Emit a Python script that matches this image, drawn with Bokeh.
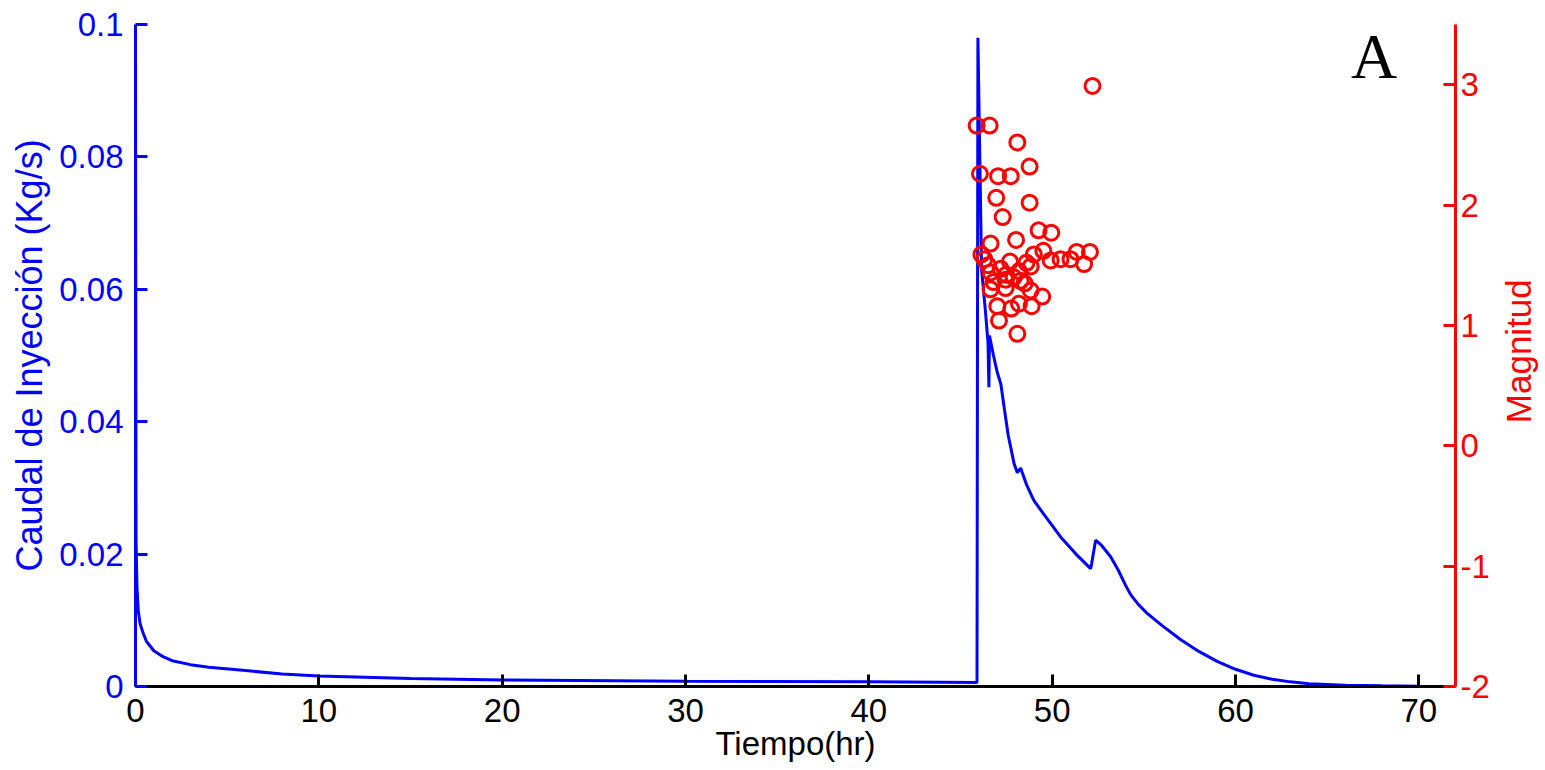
import math
from bokeh.plotting import figure
from bokeh.layouts import row
from bokeh.models import Range1d, LinearAxis, FixedTicker, Label
from bokeh.core.properties import value
from bokeh.embed import file_html
from bokeh.resources import INLINE

# Injection rate curve (time in hr, rate in Kg/s)
tiempo = [0, 0, 0.03, 0.08, 0.15, 0.25, 0.4, 0.6, 1, 1.5, 2, 3, 4, 6, 8, 10, 15, 20, 30, 40, 45.9,
          45.95, 46.15, 46.35, 46.5, 46.55, 46.58, 46.8, 47.0, 47.2, 47.4, 47.6, 47.92,
          48.1, 48.28, 48.6, 49.0, 49.6, 50.46, 51.3, 52.1, 52.15, 52.37, 52.7,
          53.19, 53.6, 54.0, 54.3, 54.7, 55.2, 56, 57, 58, 59, 60, 61, 62, 63, 64, 66, 68, 70]
caudal = [0, 0.1, 0.022, 0.015, 0.0115, 0.0095, 0.0082, 0.0068, 0.0054, 0.0045, 0.0039, 0.0033, 0.0029, 0.0024, 0.0019, 0.0016, 0.0012, 0.001, 0.0008, 0.0007, 0.0006,
          0.098, 0.063, 0.057, 0.052, 0.0452, 0.053, 0.050, 0.0475, 0.0457, 0.0418, 0.0380, 0.0337,
          0.0323, 0.033, 0.0305, 0.0281, 0.0258, 0.0226, 0.0200, 0.0178, 0.0185, 0.0221, 0.0213,
          0.0196, 0.0176, 0.0153, 0.0138, 0.0124, 0.0110, 0.0092, 0.0071, 0.0053, 0.0038, 0.0026, 0.0017, 0.0011, 0.0007, 0.0004, 0.0002, 0.0001, 0.00005]

# Seismic events (time in hr, magnitude)
ev_t = [52.2, 45.88, 46.59, 48.1, 46.06, 47.05, 47.74, 48.77, 46.95, 48.77,
        47.30, 49.26, 49.95, 46.64, 48.03, 46.14, 46.3, 49.0, 49.52, 49.92,
        50.46, 51.0, 51.34, 52.06, 51.74, 47.7, 46.5, 46.64, 47.19, 48.19,
        48.83, 47.46, 48.28, 46.64, 47.46, 48.83, 49.46, 47.01, 47.77, 48.19,
        48.88, 47.1, 48.1, 47.5, 47.9, 46.8, 48.6, 48.5]
ev_m = [2.99, 2.66, 2.66, 2.52, 2.26, 2.24, 2.24, 2.32, 2.06, 2.02,
        1.90, 1.79, 1.77, 1.68, 1.71, 1.59, 1.55, 1.59, 1.62, 1.54,
        1.55, 1.55, 1.61, 1.61, 1.51, 1.53, 1.50, 1.44, 1.47, 1.45,
        1.49, 1.38, 1.37, 1.30, 1.31, 1.29, 1.24, 1.16, 1.14, 1.18,
        1.16, 1.04, 0.93, 1.42, 1.40, 1.36, 1.52, 1.35]

x_ticks = [0, 10, 20, 30, 40, 50, 60, 70]
y_ticks = [0, 0.02, 0.04, 0.06, 0.08, 0.1]
y_tick_labels = ["0", "0.02", "0.04", "0.06", "0.08", "0.1"]
m_ticks = [-2, -1, 0, 1, 2, 3]
m_tick_labels = ["-2", "-1", "0", "1", "2", "3"]

FONT = "Liberation Sans"
BLUE = "#0000ff"
RED = "#ff0000"

p = figure(frame_width=1320, frame_height=662, output_backend="svg", toolbar_location=None,
           x_range=Range1d(0, 72), y_range=Range1d(0, 0.1),
           min_border_left=135, min_border_right=45, min_border_top=24, min_border_bottom=84)
p.extra_y_ranges = {"mag": Range1d(-2, 3.5)}
p.outline_line_color = None
p.xgrid.visible = False
p.ygrid.visible = False
p.background_fill_color = "white"
p.border_fill_color = "white"

# x axis
xa = p.xaxis[0]
xa.ticker = FixedTicker(ticks=x_ticks)
xa.axis_label = "Tiempo(hr)"
xa.axis_line_color = "black"
xa.major_tick_line_color = "black"
xa.major_label_text_color = "black"
xa.axis_label_text_color = "black"

# left axis
ya = p.yaxis[0]
ya.ticker = FixedTicker(ticks=y_ticks)
ya.major_label_overrides = {v: s for v, s in zip(y_ticks, y_tick_labels)}
ya.axis_label = "Caudal de Inyección (Kg/s)"
ya.axis_line_color = BLUE
ya.major_tick_line_color = BLUE
ya.major_label_text_color = BLUE
ya.axis_label_text_color = BLUE

# right axis
ra = LinearAxis(y_range_name="mag", ticker=FixedTicker(ticks=m_ticks))
ra.major_label_overrides = {v: s for v, s in zip(m_ticks, m_tick_labels)}
ra.axis_line_color = RED
ra.major_tick_line_color = RED
ra.major_label_text_color = RED
p.add_layout(ra, "right")

for ax in [xa, ya, ra]:
    ax.axis_line_width = 3
    ax.major_tick_line_width = 3
    ax.major_tick_in = 12
    ax.major_tick_out = 0
    ax.minor_tick_line_color = None
    ax.major_label_text_font = FONT
    ax.major_label_text_font_size = "33px"
    ax.axis_label_text_font = FONT
    ax.axis_label_text_font_style = "normal"

xa.axis_label_text_font_size = "33px"
xa.major_label_standoff = 12
xa.axis_label_standoff = 0
ya.axis_label_text_font_size = "36px"
ya.major_label_standoff = 12
ya.axis_label_standoff = 6
ra.major_label_standoff = 5

p.line(tiempo, caudal, line_color=BLUE, line_width=3)
p.scatter(ev_t, ev_m, y_range_name="mag", marker="circle", size=15,
          fill_color=None, line_color=RED, line_width=3)

p.add_layout(Label(x=66.3, y=0.0951, text="A", text_font="Liberation Serif",
                   text_font_size="64px", text_color="black",
                   text_align="left", text_baseline="alphabetic"))

# narrow side panel holding the right-axis title, reading bottom-to-top
side = figure(width=45, height=770, output_backend="svg", toolbar_location=None,
              x_range=Range1d(0, 45), y_range=Range1d(0, 770),
              x_axis_location=None, y_axis_location=None,
              min_border=0, min_border_left=0, min_border_right=0,
              min_border_top=0, min_border_bottom=0)
side.outline_line_color = None
side.xgrid.visible = False
side.ygrid.visible = False
side.text(x=[18], y=[390], text=["Magnitud"], angle=math.pi / 2,
          text_font=value(FONT), text_font_size="35px", text_color=RED,
          text_align="center", text_baseline="middle")

layout = row(p, side, spacing=0)
open("out.html", "w").write(file_html(layout, INLINE))
